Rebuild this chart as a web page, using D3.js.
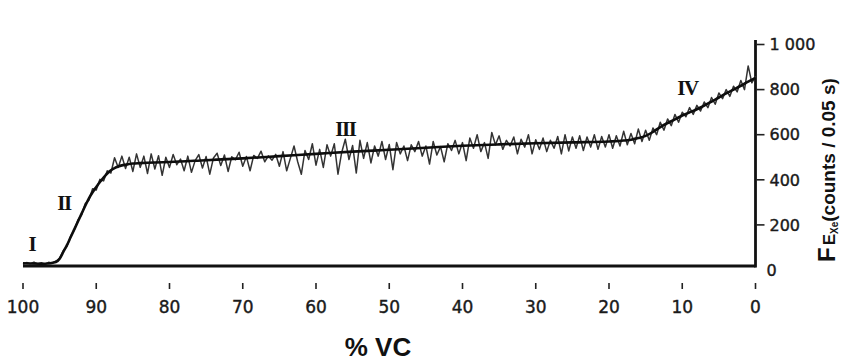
<!DOCTYPE html>
<html><head><meta charset="utf-8">
<script src="https://cdn.jsdelivr.net/npm/d3@7"></script>
<style>html,body{margin:0;padding:0;background:#fff;}svg{display:block;}</style>
</head><body>
<svg id="c" width="841" height="362"></svg>
<script>
// Smooth fitted curve (thick line)
const smoothVC = [100, 97, 95.5, 95, 94.5, 94, 93.5, 93, 92.5, 92, 91.5, 91, 90.5, 90, 89.5, 89, 88.5, 88, 87.5, 87, 86.5, 86, 85, 84, 82, 80, 75, 70, 65, 60, 55, 50, 45, 40, 35, 30, 25, 20, 18, 17, 16, 15, 14, 13, 12, 11, 10, 9, 8, 7, 6, 5, 4, 3, 2, 1, 0];
const smoothF = [30, 28, 35, 50, 80, 110, 145, 180, 215, 250, 285, 318, 345, 368, 390, 410, 428, 442, 452, 459, 464, 467, 472, 474, 477, 479, 487, 495, 505, 515, 525, 533, 542, 551, 557, 562, 566, 570, 574, 578, 585, 595, 612, 634, 652, 668, 685, 699, 713, 729, 747, 765, 783, 800, 817, 835, 852];
// Raw noisy signal, sampled every 0.5 %VC from 100 down to 0
const rawF = [
 25, 33, 28, 35, 27, 32, 26, 34, 30, 40,
 52, 85, 105, 150, 178, 222, 245, 295, 310, 360,
 355, 402, 395, 440, 430, 498, 455, 505, 450, 500,
 437, 515, 455, 505, 428, 515, 448, 507, 420, 500,
 455, 512, 467, 492, 440, 505, 433, 485, 512, 452,
 503, 425, 497, 518, 463, 510, 437, 502, 489, 522,
 460, 503, 440, 508, 495, 527, 480, 506, 487, 513,
 460, 525, 440, 495, 550, 480, 425, 530, 490, 560,
 465, 535, 455, 555, 505, 560, 425, 520, 580, 490,
 552, 430, 575, 495, 565, 475, 550, 505, 570, 490,
 557, 445, 565, 515, 550, 485, 555, 525, 570, 505,
 550, 470, 570, 510, 547, 480, 560, 530, 575, 515,
 565, 485, 585, 540, 600, 525, 565, 495, 610, 555,
 595, 535, 575, 550, 590, 515, 580, 545, 600, 515,
 578, 535, 585, 525, 575, 540, 592, 515, 600, 528,
 590, 540, 595, 530, 590, 545, 600, 535, 592, 545,
 600, 540, 595, 550, 615, 555, 605, 560, 625, 570,
 620, 575, 630, 600, 655, 620, 670, 640, 690, 655,
 700, 680, 720, 690, 730, 705, 745, 720, 765, 735,
 785, 760, 800, 770, 815, 790, 840, 800, 905, 830,
 860];
const rawVC = d3.range(0, rawF.length).map(i => 100 - i * 0.5);
const xTicks = [100, 90, 80, 70, 60, 50, 40, 30, 20, 10, 0];
const xTickLabels = ["100", "90", "80", "70", "60", "50", "40", "30", "20", "10", "0"];
const yTicks = [0, 200, 400, 600, 800, 1000];
const yTickLabels = ["0", "200", "400", "600", "800", "1 000"];
const phases = [
  {name: "I", vc: 98.8, f: 115},
  {name: "II", vc: 94.4, f: 300},
  {name: "III", vc: 56.0, f: 625},
  {name: "IV", vc: 9.3, f: 810}
];

const svg = d3.select("#c");
const x = d3.scaleLinear().domain([100, 0]).range([23, 755.5]);
const y = d3.scaleLinear().domain([0, 1000]).range([270, 44.5]);
const tickFont = "'DejaVu Sans', sans-serif";

// x baseline
svg.append("line")
  .attr("x1", x(100)).attr("x2", x(0))
  .attr("y1", y(0) - 4).attr("y2", y(0) - 4)
  .attr("stroke", "#111").attr("stroke-width", 3);
// y axis line
svg.append("line")
  .attr("x1", x(0)).attr("x2", x(0))
  .attr("y1", y(0) - 2.5).attr("y2", 40)
  .attr("stroke", "#111").attr("stroke-width", 2.8);

// x ticks (floating below)
const xg = svg.append("g");
xg.selectAll("line").data(xTicks).join("line")
  .attr("x1", d => x(d)).attr("x2", d => x(d))
  .attr("y1", 283).attr("y2", 289)
  .attr("stroke", "#222").attr("stroke-width", 1.6);
xg.selectAll("text").data(xTicks).join("text")
  .attr("x", d => x(d)).attr("y", 313)
  .attr("text-anchor", "middle")
  .attr("font-family", tickFont).attr("font-size", 17)
  .attr("fill", "#1a1a1a").attr("stroke", "#1a1a1a").attr("stroke-width", 0.4)
  .text((d, i) => xTickLabels[i]);

// y ticks
const yg = svg.append("g");
yg.selectAll("line").data(yTicks.filter(d => d > 0)).join("line")
  .attr("x1", x(0) + 1).attr("x2", x(0) + 9)
  .attr("y1", d => y(d)).attr("y2", d => y(d))
  .attr("stroke", "#222").attr("stroke-width", 1.6);
yg.selectAll("text").data(yTicks).join("text")
  .attr("x", d => d === 0 ? x(0) + 11 : x(0) + 14).attr("y", d => y(d))
  .attr("dy", "0.36em")
  .attr("font-family", tickFont).attr("font-size", 16)
  .attr("fill", "#1a1a1a").attr("stroke", "#1a1a1a").attr("stroke-width", 0.4)
  .text((d, i) => yTickLabels[i]);

// raw noisy line
const rawData = rawVC.map((v, i) => [v, rawF[i]]);
svg.append("path").datum(rawData)
  .attr("fill", "none").attr("stroke", "#333").attr("stroke-width", 1.5)
  .attr("stroke-linejoin", "round")
  .attr("d", d3.line().x(d => x(d[0])).y(d => y(d[1])));

// smooth thick line
const smoothData = smoothVC.map((v, i) => [v, smoothF[i]]);
svg.append("path").datum(smoothData)
  .attr("fill", "none").attr("stroke", "#0d0d0d").attr("stroke-width", 2.6)
  .attr("stroke-linejoin", "round")
  .attr("d", d3.line().curve(d3.curveMonotoneX).x(d => x(d[0])).y(d => y(d[1])));

// phase labels
svg.selectAll("text.phase").data(phases).join("text")
  .attr("class", "phase")
  .attr("x", d => x(d.vc)).attr("y", d => y(d.f))
  .attr("text-anchor", "middle").attr("dy", "0.35em")
  .attr("font-family", "'Liberation Serif', serif").attr("font-weight", "bold")
  .attr("font-size", 21).attr("letter-spacing", -1.5)
  .attr("fill", "#111")
  .text(d => d.name);

// x title
svg.append("text")
  .attr("x", 378).attr("y", 356)
  .attr("text-anchor", "middle")
  .attr("font-family", "'Liberation Sans', Arial, sans-serif").attr("font-weight", "bold")
  .attr("font-size", 26).attr("fill", "#111")
  .text("% VC");

// y title
const yt = svg.append("text")
  .attr("transform", "translate(835,262) rotate(-90)")
  .attr("font-family", "'Liberation Sans', Arial, sans-serif").attr("font-weight", "bold")
  .attr("fill", "#111");
yt.append("tspan").attr("font-size", 24).text("F");
yt.append("tspan").attr("font-size", 17).attr("dx", 2).text("E");
yt.append("tspan").attr("font-size", 10).attr("dy", 3).text("Xe");
yt.append("tspan").attr("font-size", 19).attr("dy", -3).text("(counts / 0.05 s)");
</script>
</body></html>
